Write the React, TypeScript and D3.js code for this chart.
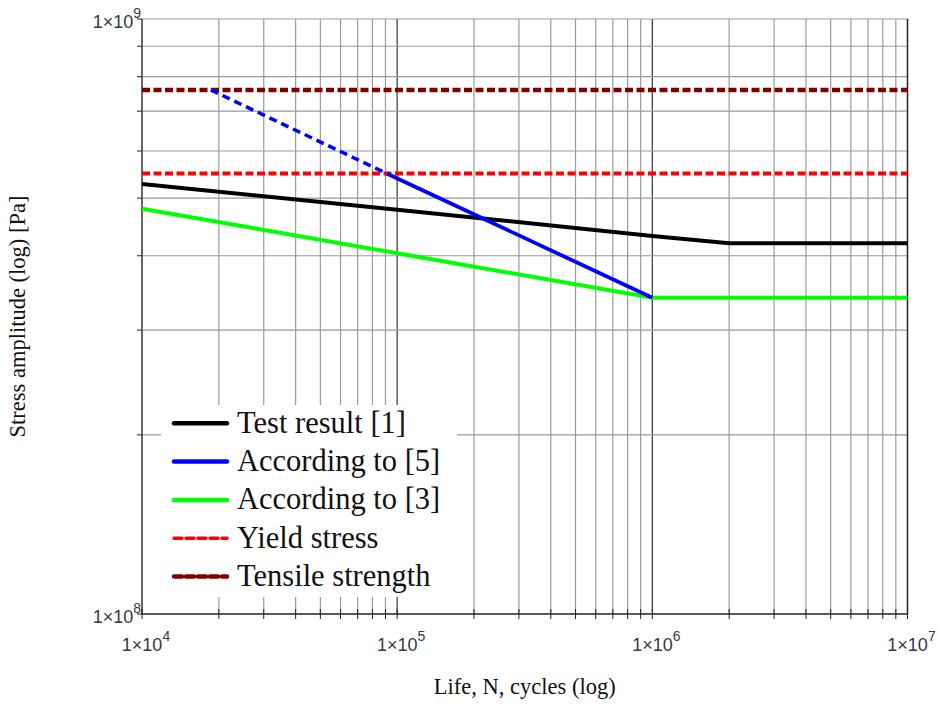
import React from "react";
import * as d3 from "d3";

// Fatigue life curves (N in cycles, S in Pa)
const testN = [1e4, 1e5, 1e6, 2e6, 1e7];
const testS = [5.28e8, 4.78e8, 4.32e8, 4.2e8, 4.2e8];

const ref5DashedN = [1.86e4, 9.1e4];
const ref5DashedS = [7.6e8, 5.5e8];
const ref5SolidN = [9.1e4, 1e6];
const ref5SolidS = [5.5e8, 3.4e8];

const ref3N = [1e4, 1e6, 1e7];
const ref3S = [4.8e8, 3.4e8, 3.4e8];

const yieldStress = 5.5e8;
const tensileStrength = 7.6e8;

const xTickExps = [4, 5, 6, 7];
const yTickExps = [8, 9];

const legendLabels = [
  "Test result [1]",
  "According to [5]",
  "According to [3]",
  "Yield stress",
  "Tensile strength",
];

const W = 938;
const H = 704;
const M = { left: 142, right: 907.5, top: 19, bottom: 614 };

export default function App() {
  const x = d3.scaleLog().domain([1e4, 1e7]).range([M.left, M.right]);
  const y = d3.scaleLog().domain([1e8, 1e9]).range([M.bottom, M.top]);

  const line = d3
    .line<[number, number]>()
    .x((d) => x(d[0]))
    .y((d) => y(d[1]));

  const zip = (a: number[], b: number[]) => a.map((v, i) => [v, b[i]] as [number, number]);

  // grid values
  const xGrid: number[] = [];
  for (let k = 4; k <= 6; k++) for (let n = 1; n <= 9; n++) xGrid.push(n * Math.pow(10, k));
  xGrid.push(1e7);
  const yGrid: number[] = [];
  for (let n = 1; n <= 10; n++) yGrid.push(n * 1e8);

  const isDecade = (v: number) => Math.abs(Math.log10(v) - Math.round(Math.log10(v))) < 1e-9;

  const legendStyles = [
    { stroke: "#000000", dash: undefined, width: 4.5 },
    { stroke: "#0000ff", dash: undefined, width: 4.5 },
    { stroke: "#00ff00", dash: undefined, width: 4.5 },
    { stroke: "#ff0000", dash: "8 4", width: 3.5 },
    { stroke: "#800000", dash: "8 4", width: 4.5 },
  ];

  const tickFont = { fontFamily: "Liberation Sans, Arial, sans-serif", fill: "#333a44" };

  return (
    <svg
      width={W}
      height={H}
      viewBox={`0 0 ${W} ${H}`}
      style={{ position: "absolute", left: 0, top: 0, background: "#fff" }}
    >
      {/* grid */}
      <g>
        {xGrid.map((v, i) => (
          <line
            key={"gx" + i}
            x1={x(v)}
            x2={x(v)}
            y1={M.top}
            y2={M.bottom}
            stroke={isDecade(v) ? "#444" : "#9a9a9a"}
            strokeWidth={isDecade(v) ? 1.3 : 1.2}
          />
        ))}
        {yGrid.map((v, i) => (
          <line
            key={"gy" + i}
            x1={M.left}
            x2={M.right}
            y1={y(v)}
            y2={y(v)}
            stroke="#9a9a9a"
            strokeWidth={1.2}
          />
        ))}
      </g>

      {/* frame */}
      <line x1={M.left} x2={M.left} y1={M.top} y2={M.bottom} stroke="#666" strokeWidth={2} />
      <line x1={M.left} x2={M.right} y1={M.bottom} y2={M.bottom} stroke="#333" strokeWidth={1.5} />
      <line x1={M.right} x2={M.right} y1={M.top} y2={M.bottom} stroke="#222" strokeWidth={1.3} />

      {/* ticks */}
      {xGrid.map((v, i) => (
        <line key={"tx" + i} x1={x(v)} x2={x(v)} y1={M.bottom - 5} y2={M.bottom + 5} stroke="#222" strokeWidth={1} />
      ))}
      {yGrid.map((v, i) => (
        <line key={"ty" + i} x1={M.left - 5} x2={M.left} y1={y(v)} y2={y(v)} stroke="#222" strokeWidth={1} />
      ))}

      {/* data */}
      <path
        d={line([[1e4, tensileStrength], [1e7, tensileStrength]]) || ""}
        fill="none"
        stroke="#800000"
        strokeWidth={4.5}
        strokeDasharray="8 3.5"
      />
      <path
        d={line([[1e4, yieldStress], [1e7, yieldStress]]) || ""}
        fill="none"
        stroke="#ff0000"
        strokeWidth={4}
        strokeDasharray="8 3.5"
      />
      <path d={line(zip(ref3N, ref3S)) || ""} fill="none" stroke="#00ff00" strokeWidth={4} />
      <path d={line(zip(testN, testS)) || ""} fill="none" stroke="#000" strokeWidth={4} />
      <path
        d={line(zip(ref5DashedN, ref5DashedS)) || ""}
        fill="none"
        stroke="#0000ff"
        strokeWidth={3.5}
        strokeDasharray="8 5"
      />
      <path d={line(zip(ref5SolidN, ref5SolidS)) || ""} fill="none" stroke="#0000ff" strokeWidth={3.8} />

      {/* legend */}
      <rect x={161} y={405} width={296} height={192} fill="#fff" />
      {legendLabels.map((lab, i) => {
        const cy = 423.3 + i * 38.3;
        const s = legendStyles[i];
        return (
          <g key={"lg" + i}>
            <line
              x1={174}
              x2={227}
              y1={cy}
              y2={cy}
              stroke={s.stroke}
              strokeWidth={s.width}
              strokeDasharray={s.dash}
              strokeLinecap="round"
            />
            <text
              x={237}
              y={cy + 9.5}
              fontFamily="Liberation Serif, Times New Roman, serif"
              fontSize={30.5}
              fill="#111"
            >
              {lab}
            </text>
          </g>
        );
      })}

      {/* x tick labels */}
      {xTickExps.map((e) => (
        <text
          key={"xl" + e}
          x={x(Math.pow(10, e)) + 4}
          y={651}
          textAnchor="middle"
          fontSize={18}
          {...tickFont}
        >
          1×10
          <tspan dy={-10} fontSize={14}>
            {e}
          </tspan>
        </text>
      ))}

      {/* y tick labels */}
      {yTickExps.map((e) => (
        <text
          key={"yl" + e}
          x={141}
          y={y(Math.pow(10, e)) + 9}
          textAnchor="end"
          fontSize={18}
          {...tickFont}
        >
          1×10
          <tspan dy={-10} fontSize={14}>
            {e}
          </tspan>
        </text>
      ))}

      {/* axis titles */}
      <text
        x={(M.left + M.right) / 2}
        y={694}
        textAnchor="middle"
        fontFamily="Liberation Serif, Times New Roman, serif"
        fontSize={22.5}
        fill="#111"
      >
        Life, N, cycles (log)
      </text>
      <text
        transform={`translate(24.5, ${(M.top + M.bottom) / 2}) rotate(-90)`}
        textAnchor="middle"
        fontFamily="Liberation Serif, Times New Roman, serif"
        fontSize={22.5}
        fill="#111"
      >
        Stress amplitude (log) [Pa]
      </text>
    </svg>
  );
}
